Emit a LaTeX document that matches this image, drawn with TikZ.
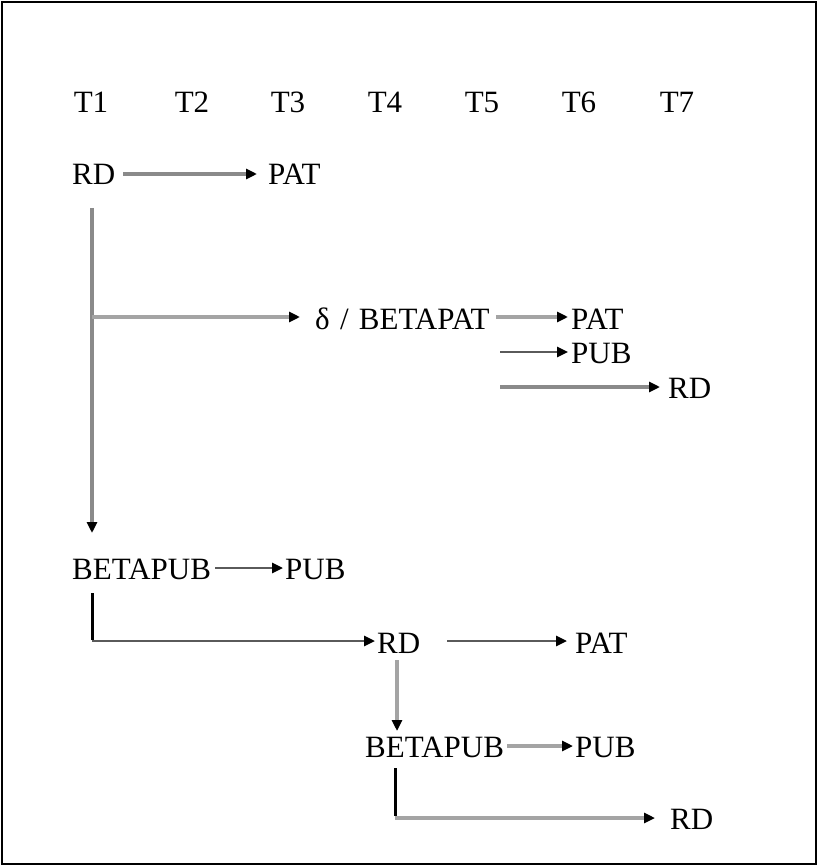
\documentclass[tikz,border=0pt]{standalone}
\usepackage{fontspec}
\setmainfont{Liberation Serif}
\usetikzlibrary{arrows.meta}
\definecolor{lg}{HTML}{A4A4A4}
\definecolor{mg}{HTML}{8A8A8A}
\definecolor{dg}{HTML}{5A5A5A}
\begin{document}
\begin{tikzpicture}[x=1pt,y=-1pt,
  lbl/.style={inner sep=0pt,anchor=base west,font=\fontsize{31}{34}\selectfont},
  hdr/.style={inner sep=0pt,anchor=base,font=\fontsize{31}{34}\selectfont},
  conn/.style={line width=3.2pt,-{Triangle[length=11pt,width=10pt,color=black]}},
  darkline/.style={line width=2.6pt,draw=dg},
  plain/.style={line width=3pt}]
\useasboundingbox (0,0) rectangle (818,866);
\draw[line width=2.8pt] (2,2) rectangle (816,864);
% header
\node[hdr] (t1) at (91,113) {T1};
\node[hdr] (t2) at (192,113) {T2};
\node[hdr] (t3) at (288,113) {T3};
\node[hdr] (t4) at (385,113) {T4};
\node[hdr] (t5) at (482,113) {T5};
\node[hdr] (t6) at (579,113) {T6};
\node[hdr] (t7) at (677,113) {T7};
% nodes
\node[lbl] (rd1) at (72,185) {RD};
\node[lbl] (pat1) at (268,185) {PAT};
\node[lbl] (bpat) at (315,329) {δ\hspace{0.33em}/\hspace{0.33em}BETAPAT};
\node[lbl] (pat2) at (571,329) {PAT};
\node[lbl] (pub2) at (571,363) {PUB};
\node[lbl] (rd2) at (668,398) {RD};
\node[lbl] (bpub1) at (72,579) {BETAPUB};
\node[lbl] (pub3) at (285,579) {PUB};
\node[lbl] (rd3) at (377,653) {RD};
\node[lbl] (pat3) at (575,653) {PAT};
\node[lbl] (bpub2) at (365,757) {BETAPUB};
\node[lbl] (pub4) at (575,757) {PUB};
\node[lbl] (rd4) at (670,829) {RD};
% helper coordinates
\coordinate (br) at (92,317);
\coordinate (s2) at (500,352);
\coordinate (s3) at (500,387);
\coordinate (c1) at (92,641);
\coordinate (c2) at (395,818);
\coordinate (s4) at (447,641);
% connectors
\draw[conn,mg] (rd1.east |- 0,174) ++(8,0) -- ([xshift=-11pt]pat1.west |- 0,174);
\draw[conn,mg] (92,208) -- (92,533) coordinate (v1end);
\draw[conn,lg] (br) -- ([xshift=-15pt]bpat.west |- br);
\draw[conn,lg] ([xshift=6pt]bpat.east |- br) -- ([xshift=-3pt]pat2.west |- br);
\draw[conn,darkline] (s2) -- ([xshift=-3pt]pub2.west |- s2);
\draw[conn,mg] (s3) -- ([xshift=-8pt]rd2.west |- s3);
\draw[conn,darkline] ([xshift=4pt]bpub1.east |- 0,568) -- ([xshift=-2pt]pub3.west |- 0,568);
\draw[plain,black] (92,593) -- ([yshift=1.3pt]c1);
\draw[conn,darkline] (c1) -- ([xshift=-2pt]rd3.west |- c1);
\draw[conn,darkline] (s4) -- ([xshift=-8pt]pat3.west |- s4);
\draw[conn,lg] (397,660) -- (397,731);
\draw[conn,lg] ([xshift=3pt]bpub2.east |- 0,746) -- ([xshift=-2pt]pub4.west |- 0,746);
\draw[plain,black] (395,768) -- ([yshift=1.6pt]c2);
\draw[conn,lg] (c2) -- ([xshift=-15pt]rd4.west |- c2);
\end{tikzpicture}
\end{document}
